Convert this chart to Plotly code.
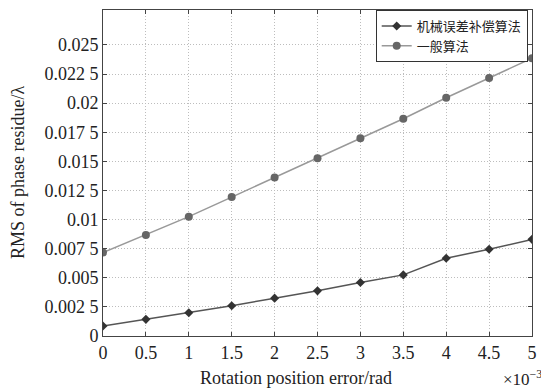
import plotly.graph_objects as go

x_vals = [0, 0.5, 1, 1.5, 2, 2.5, 3, 3.5, 4, 4.5, 5]
mech_comp = [0.00086, 0.00143, 0.0020, 0.0026, 0.00325, 0.00388, 0.0046, 0.00525, 0.00668, 0.00745, 0.0083]
general = [0.00717, 0.00868, 0.01025, 0.01193, 0.01361, 0.01527, 0.01698, 0.01866, 0.02046, 0.02215, 0.02386]
series_names = ["机械误差补偿算法", "一般算法"]
y_tickvals = [0, 0.0025, 0.005, 0.0075, 0.01, 0.0125, 0.015, 0.0175, 0.02, 0.0225, 0.025]
y_ticktext = ["0", "0.002 5", "0.005", "0.007 5", "0.01", "0.012 5", "0.015", "0.017 5", "0.02", "0.022 5", "0.025"]
x_tickvals = [0, 0.5, 1, 1.5, 2, 2.5, 3, 3.5, 4, 4.5, 5]
x_ticktext = ["0", "0.5", "1", "1.5", "2", "2.5", "3", "3.5", "4", "4.5", "5"]

serif = "Liberation Serif, Times New Roman, serif"

fig = go.Figure()
fig.add_trace(go.Scatter(
    x=x_vals, y=mech_comp, name=series_names[0], mode="lines+markers",
    line=dict(color="#555555", width=1.5),
    marker=dict(symbol="diamond", size=7, color="#333333"),
))
fig.add_trace(go.Scatter(
    x=x_vals, y=general, name=series_names[1], mode="lines+markers",
    line=dict(color="#999999", width=1.5),
    marker=dict(symbol="circle", size=8, color="#666666"),
))

# page body has an 8px default margin, so the figure is sized/offset accordingly
fig.update_layout(
    width=541, height=382,
    margin=dict(l=95, r=17, t=2, b=54, autoexpand=False),
    paper_bgcolor="white", plot_bgcolor="white",
    font=dict(family=serif, size=18, color="#222222"),
    showlegend=True,
    legend=dict(
        x=0.99, y=1.0, xanchor="right", yanchor="top",
        bgcolor="white", bordercolor="#333333", borderwidth=1,
        font=dict(family="Noto Sans CJK SC", size=13, color="#222222"),
        tracegroupgap=0, itemwidth=30,
    ),
    xaxis=dict(
        range=[0, 5], tickvals=x_tickvals, ticktext=x_ticktext,
        showgrid=True, gridcolor="#bdbdbd", griddash="1px,2px", gridwidth=1,
        showline=True, linecolor="#444444", linewidth=1, mirror="ticks",
        ticks="inside", ticklen=4, tickcolor="#444444",
        zeroline=False, automargin=False,
    ),
    yaxis=dict(
        range=[0, 0.028], tickvals=y_tickvals, ticktext=y_ticktext,
        showgrid=True, gridcolor="#bdbdbd", griddash="1px,2px", gridwidth=1,
        showline=True, linecolor="#444444", linewidth=1, mirror="ticks",
        ticks="inside", ticklen=4, tickcolor="#444444",
        zeroline=False, automargin=False,
    ),
)
fig.add_annotation(
    x=0.45, y=0, xref="paper", yref="paper", xanchor="center", yanchor="middle",
    yshift=-42, text="Rotation position error/rad", showarrow=False,
    font=dict(family=serif, size=18, color="#222222"),
)
fig.add_annotation(
    x=0, y=0.5, xref="paper", yref="paper", xanchor="center", yanchor="middle",
    xshift=-85, text="RMS of phase residue/λ", showarrow=False, textangle=-90,
    font=dict(family=serif, size=18, color="#222222"),
)
fig.add_annotation(
    x=1.0, y=0, xref="paper", yref="paper", xanchor="right", yanchor="middle",
    xshift=12, yshift=-42,
    text="×10<sup>−3</sup>", showarrow=False,
    font=dict(family=serif, size=17, color="#222222"),
)
fig.write_html("out.html")
